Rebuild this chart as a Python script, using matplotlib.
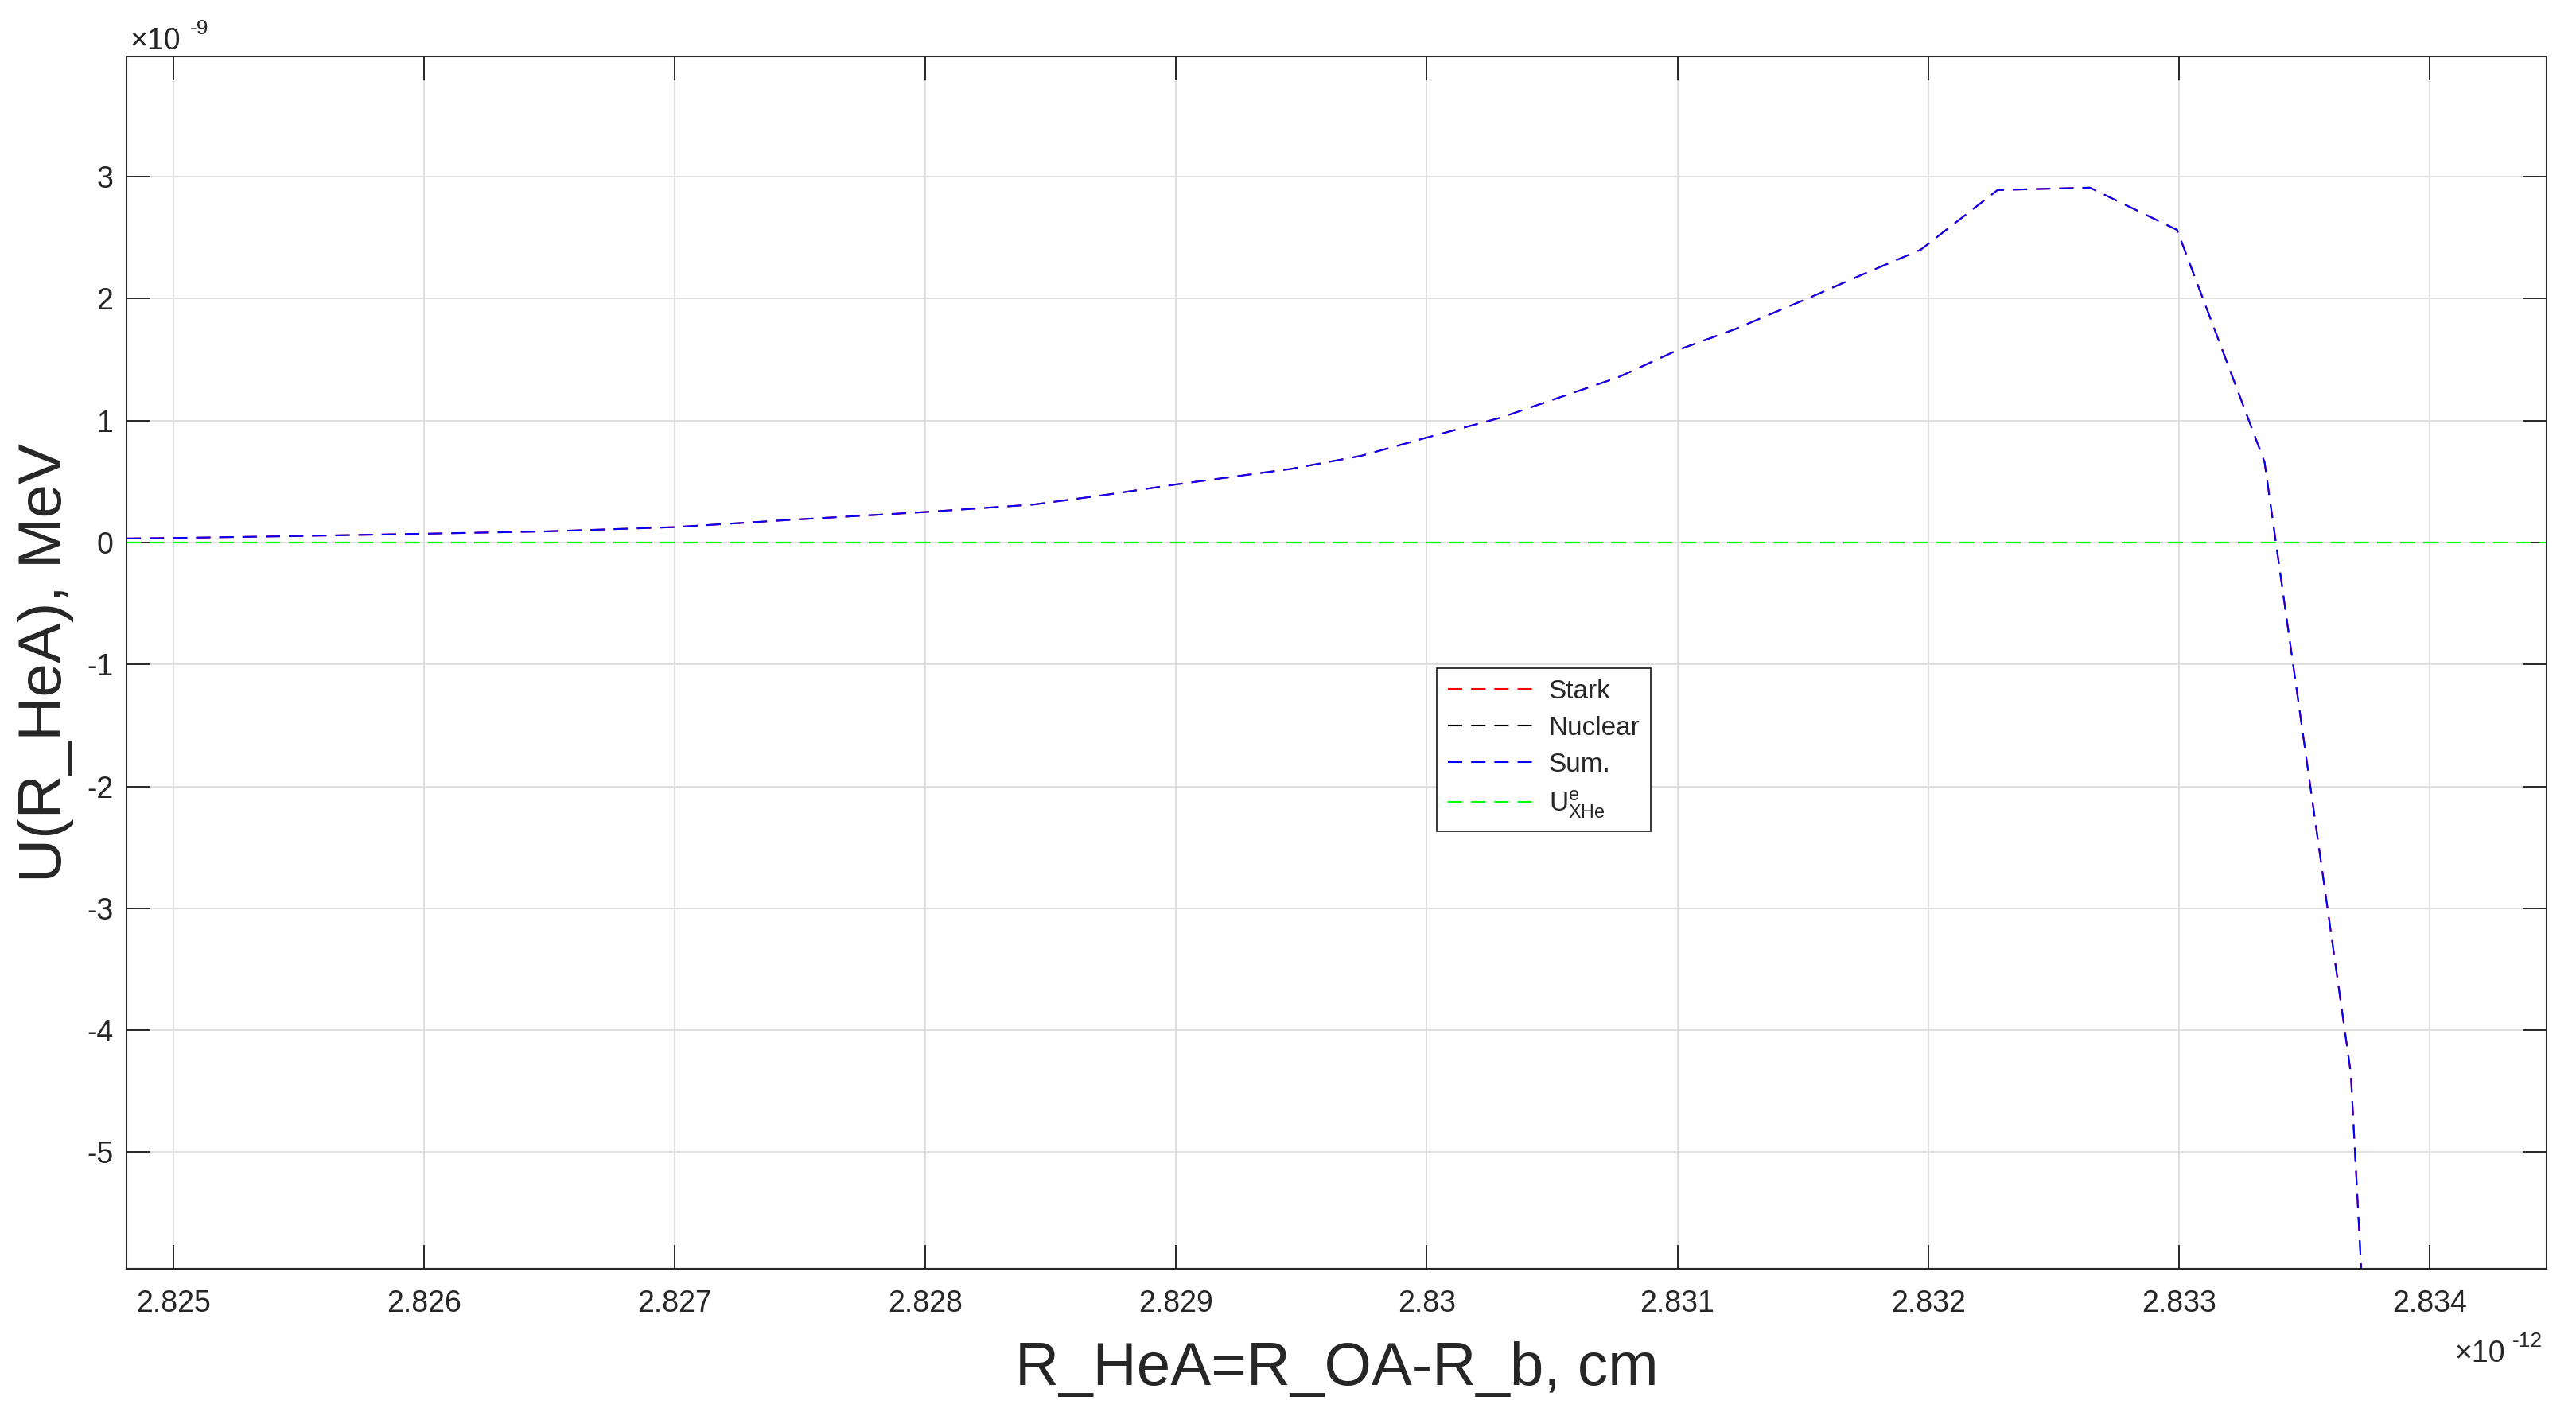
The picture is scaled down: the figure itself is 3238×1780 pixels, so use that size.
import matplotlib
matplotlib.use("Agg")
import matplotlib.pyplot as plt
from matplotlib.ticker import FuncFormatter, FixedLocator

# ---- data (x in units of 1e-12 cm, y in units of 1e-9 MeV) ----
r_values = [2.824813, 2.825000, 2.825462, 2.826000, 2.826484, 2.827000, 2.827457,
            2.828000, 2.828431, 2.828711, 2.829000, 2.829457, 2.829737, 2.830000,
            2.830296, 2.830529, 2.830762, 2.831000, 2.831228, 2.831531, 2.831741,
            2.831970, 2.832277, 2.832645, 2.832993, 2.833342, 2.833686, 2.834035]
sum_values = [0.033, 0.037, 0.052, 0.072, 0.091, 0.126, 0.185,
              0.250, 0.311, 0.388, 0.476, 0.603, 0.710, 0.860,
              1.024, 1.189, 1.353, 1.577, 1.748, 2.011, 2.200,
              2.400, 2.890, 2.910, 2.563, 0.660, -4.350, -17.800]
stark_values = list(sum_values)          # hidden beneath the Sum curve
nuclear_values = [0.0] * len(r_values)   # hidden beneath the U_XHe line
u_r = [2.824813, 2.834467]
u_values = [0.0, 0.0]

x_ticks = [2.825, 2.826, 2.827, 2.828, 2.829, 2.830, 2.831, 2.832, 2.833, 2.834]
y_ticks = [-5, -4, -3, -2, -1, 0, 1, 2, 3]
x_limits = (2.824813, 2.834467)
y_limits = (-5.956, 3.985)
labels = ["Stark", "Nuclear", "Sum.", r"$\mathregular{U^{e}_{XHe}}$"]

# ---- style ----
plt.rcParams['font.family'] = ['Liberation Sans', 'DejaVu Sans']
plt.rcParams['mathtext.fontset'] = 'custom'
plt.rcParams['mathtext.rm'] = 'Liberation Sans'
plt.rcParams['mathtext.it'] = 'Liberation Sans'
plt.rcParams['lines.scale_dashes'] = False
TXT = '#262626'
W, H = 3238, 1780
DPI = 100

fig = plt.figure(figsize=(W / DPI, H / DPI), dpi=DPI)
ax = fig.add_axes([159 / W, 1 - 1595 / H, (3201 - 159) / W, (1595 - 71) / H])

dash = (0, (13.0, 8.0))
lw = 1.5
ax.plot(r_values, stark_values, color=(1, 0, 0), lw=lw, linestyle=dash, label=labels[0])
ax.plot(r_values, nuclear_values, color=(0, 0, 0), lw=lw, linestyle=dash, label=labels[1])
ax.plot(r_values, sum_values, color=(0, 0, 1), lw=lw, linestyle=dash, label=labels[2])
ax.plot(u_r, u_values, color=(0, 1, 0), lw=lw, linestyle=dash, label=labels[3])

ax.set_xlim(*x_limits)
ax.set_ylim(*y_limits)
ax.xaxis.set_major_locator(FixedLocator(x_ticks))
ax.yaxis.set_major_locator(FixedLocator(y_ticks))
ax.xaxis.set_major_formatter(FuncFormatter(lambda v, p: f"{round(v, 6):g}"))
ax.yaxis.set_major_formatter(FuncFormatter(lambda v, p: f"{round(v, 6):g}"))

ax.grid(True, color='#dfdfdf', lw=1.4)
ax.set_axisbelow(True)
for s in ax.spines.values():
    s.set_color(TXT)
    s.set_linewidth(1.5)
ax.tick_params(axis='both', which='major', direction='in', length=21.5, width=1.4,
               color=TXT, labelcolor=TXT, labelsize=27, top=True, right=True)
ax.tick_params(axis='x', pad=18.5)
ax.tick_params(axis='y', pad=12)

ax.set_xlabel("R_HeA=R_OA-R_b, cm", fontsize=55, color=TXT, va='top')
ax.xaxis.set_label_coords(0.5, (1595 - 1686) / 1524)
ax.set_ylabel("U(R_HeA), MeV", fontsize=55, color=TXT)
ax.yaxis.set_label_coords((93 - 159) / 3042, 0.5)

# exponent labels
fig.text(163 / W, 1 - 62 / H, "\u00d710", fontsize=27, color=TXT, ha='left', va='baseline')
fig.text(239 / W, 1 - 43 / H, "-9", fontsize=19, color=TXT, ha='left', va='baseline')
fig.text(3085 / W, 1 - 1712 / H, "\u00d710", fontsize=27, color=TXT, ha='left', va='baseline')
fig.text(3158 / W, 1 - 1693 / H, "-12", fontsize=19, color=TXT, ha='left', va='baseline')

leg = ax.legend(loc='upper left', bbox_to_anchor=((1806 - 159) / 3042, (1595 - 840) / 1524),
                borderaxespad=0, fontsize=24, handlelength=3.2, handletextpad=0.6,
                borderpad=0.42, labelspacing=0.45, fancybox=False, framealpha=1,
                edgecolor=TXT)
leg.get_frame().set_linewidth(1.3)
for t in leg.get_texts():
    t.set_color(TXT)

fig.savefig("out.png", dpi=DPI, facecolor='white')
